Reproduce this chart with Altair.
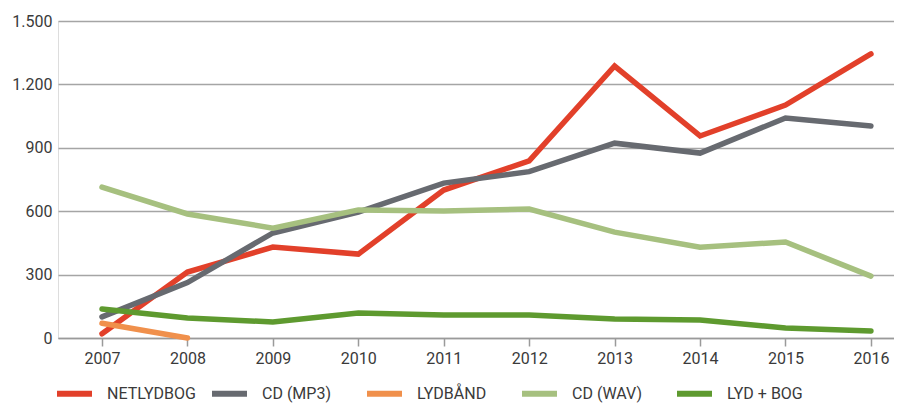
import altair as alt
import pandas as pd

years = [2007, 2008, 2009, 2010, 2011, 2012, 2013, 2014, 2015, 2016]
series_names = ["NETLYDBOG", "CD (MP3)", "LYDBÅND", "CD (WAV)", "LYD + BOG"]
colors = ["#e2402a", "#676a70", "#f0904c", "#a6c07f", "#5e9a2f"]

netlydbog = [20, 312, 430, 397, 700, 838, 1287, 956, 1102, 1344]
cd_mp3 = [100, 262, 497, 596, 733, 787, 922, 875, 1041, 1003]
lydbaand = [70, 0]
cd_wav = [714, 587, 520, 606, 601, 610, 501, 430, 454, 293]
lyd_bog = [137, 95, 76, 118, 109, 109, 90, 85, 47, 33]

y_ticks = [0, 300, 600, 900, 1200, 1500]

rows = []
for name, vals in zip(series_names, [netlydbog, cd_mp3, lydbaand, cd_wav, lyd_bog]):
    for i, v in enumerate(vals):
        rows.append({"year": years[i], "value": v, "series": name, "order": series_names.index(name)})
df = pd.DataFrame(rows)

font = "Roboto"
fs = 16
txt = "#3a3a3a"

chart = alt.Chart(df).mark_line(strokeWidth=5.5, strokeCap="round", strokeJoin="miter").encode(
    x=alt.X("year:Q",
            scale=alt.Scale(domain=[2006.485, 2016.27], nice=False, zero=False),
            axis=alt.Axis(values=years, format="d", title=None, grid=False,
                          tickSize=8, tickColor="#9a9a9a", tickWidth=1.5,
                          domainColor="#9a9a9a", domainWidth=1.5,
                          labelFontSize=fs, labelColor=txt, labelFont=font,
                          labelPadding=4)),
    y=alt.Y("value:Q",
            scale=alt.Scale(domain=[0, 1500], nice=False),
            axis=alt.Axis(values=y_ticks, title=None, ticks=False, domain=False,
                          gridColor="#a5a5a5", gridWidth=1.5,
                          labelExpr="replace(format(datum.value, ','), ',', '.')",
                          labelFontSize=fs, labelColor=txt, labelFont=font,
                          labelPadding=6)),
    color=alt.Color("series:N",
                    scale=alt.Scale(domain=series_names, range=colors),
                    legend=alt.Legend(title=None, orient="none", direction="horizontal",
                                      legendX=-4, legendY=352,
                                      symbolType="stroke", symbolSize=1225,
                                      symbolStrokeWidth=6, labelOffset=12,
                                      labelFontSize=fs, labelColor=txt, labelFont=font,
                                      gridAlign="all", columnPadding=4,
                                      padding=0, symbolOpacity=1)),
    detail="series:N",
    order="order:Q",
).properties(
    width=836,
    height=317,
    padding={"left": 50, "top": 13, "right": 0, "bottom": 65},
    autosize=alt.AutoSizeParams(type="none"),
).configure_view(
    fill="#eeede9", stroke=None
).configure(background="white")

chart.save("out.html", embed_options={"renderer": "svg", "actions": False})
